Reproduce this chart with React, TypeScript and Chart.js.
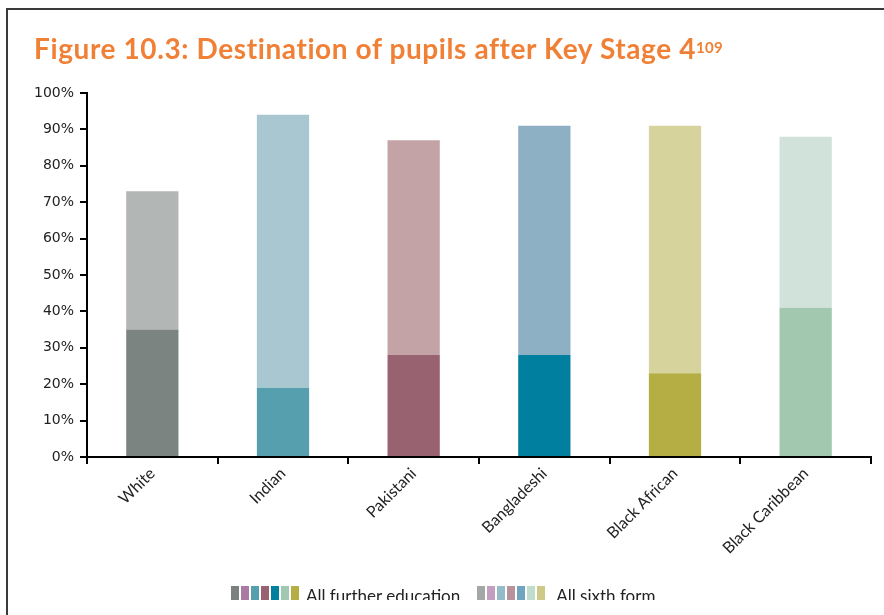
import React, { useEffect, useRef } from "react";
import { Chart, registerables } from "chart.js";

Chart.register(...registerables);

const categories = ["White", "Indian", "Pakistani", "Bangladeshi", "Black African", "Black Caribbean"];
const furtherEducation = [35, 19, 28, 28, 23, 41];
const sixthForm = [38, 75, 59, 63, 68, 47];
const feColors = ["#7b8480", "#559faf", "#996271", "#007f9f", "#b4ae44", "#a2c8b0"];
const sfColors = ["#b2b6b4", "#a9c7d1", "#c4a3a7", "#8eb0c4", "#d6d39d", "#d0e2d9"];
const feLegendColors = ["#7a817f", "#a97aa3", "#55a0ae", "#986272", "#00809e", "#a1c8b0", "#b4ae45"];
const sfLegendColors = ["#a3a8a7", "#c49ebe", "#93bcc8", "#b9939b", "#71a4be", "#c0dccc", "#cdc987"];
const legendLabels = ["All further education", "All sixth form"];
const yMax = 100;
const yStep = 10;

export default function App() {
  const ref = useRef<HTMLCanvasElement | null>(null);

  useEffect(() => {
    if (!ref.current) return;
    const chart = new Chart(ref.current, {
      type: "bar",
      data: {
        labels: categories,
        datasets: [
          {
            label: legendLabels[0],
            data: furtherEducation,
            backgroundColor: feColors,
            borderWidth: 0,
            barPercentage: 0.4,
            categoryPercentage: 1,
          },
          {
            label: legendLabels[1],
            data: sixthForm,
            backgroundColor: sfColors,
            borderWidth: 0,
            barPercentage: 0.4,
            categoryPercentage: 1,
          },
        ],
      },
      options: {
        responsive: false,
        animation: false,
        layout: { padding: { top: 93, right: 13, bottom: 0, left: 0 } },
        plugins: { legend: { display: false }, tooltip: { enabled: false }, title: { display: false } },
        scales: {
          x: {
            stacked: true,
            offset: true,
            afterFit: (s: any) => {
              s.height = 158;
            },
            grid: {
              display: true,
              offset: true,
              drawOnChartArea: false,
              drawTicks: true,
              tickLength: 7,
              color: "#000",
              lineWidth: 2,
            },
            border: { display: true, color: "#000", width: 2 },
            ticks: {
              minRotation: 45,
              maxRotation: 45,
              padding: 0,
              color: "#222",
              font: { family: "Lato", size: 16 },
            },
          },
          y: {
            stacked: true,
            min: 0,
            max: yMax,
            afterFit: (s: any) => {
              s.width = 87;
            },
            grid: {
              display: true,
              drawOnChartArea: false,
              drawTicks: true,
              tickLength: 7,
              color: "#000",
              lineWidth: 2,
            },
            border: { display: true, color: "#000", width: 2 },
            ticks: {
              stepSize: yStep,
              padding: 6,
              color: "#222",
              font: { family: "DejaVu Sans", size: 14 },
              callback: (v: any) => v + "%",
            },
          },
        },
      },
    });
    return () => chart.destroy();
  }, []);

  const swatches = (cols: string[], mr: number) => (
    <span style={{ display: "inline-flex", gap: 2, marginRight: mr, alignSelf: "flex-start" }}>
      {cols.map((c, i) => (
        <span key={i} style={{ display: "inline-block", width: 8, height: 14, background: c }} />
      ))}
    </span>
  );

  return (
    <div style={{ position: "fixed", left: 0, top: 0, width: 884, height: 615, overflow: "hidden", background: "#fff" }}>
      <div
        style={{
          position: "absolute",
          left: 6,
          top: 8,
          width: 1000,
          height: 1000,
          borderTop: "2px solid #3a3a3a",
          borderLeft: "2px solid #3a3a3a",
        }}
      />
      <canvas ref={ref} width={884} height={615} style={{ position: "absolute", left: 0, top: 0 }} />
      <div
        style={{
          position: "absolute",
          left: 34,
          top: 30,
          fontFamily: "Lato, 'Open Sans', sans-serif",
          fontWeight: 700,
          fontSize: 28,
          letterSpacing: 0.6,
          color: "#f08036",
          whiteSpace: "nowrap",
          lineHeight: "36px",
        }}
      >
        Figure 10.3: Destination of pupils after Key Stage 4
        <sup style={{ fontSize: 15, letterSpacing: 0.3, verticalAlign: "top", position: "relative", top: -1, marginLeft: 0 }}>109</sup>
      </div>
      <div
        style={{
          position: "absolute",
          left: 231,
          top: 586,
          height: 24,
          display: "flex",
          fontFamily: "Lato, 'Open Sans', sans-serif",
          fontSize: 17,
          color: "#222",
          whiteSpace: "nowrap",
          lineHeight: "20px",
        }}
      >
        {swatches(feLegendColors, 7)}
        <span style={{ marginRight: 17 }}>{legendLabels[0]}</span>
        {swatches(sfLegendColors, 11)}
        <span>{legendLabels[1]}</span>
      </div>
      <div style={{ position: "absolute", left: 8, top: 600, width: 880, height: 15, background: "#fff" }} />
    </div>
  );
}
